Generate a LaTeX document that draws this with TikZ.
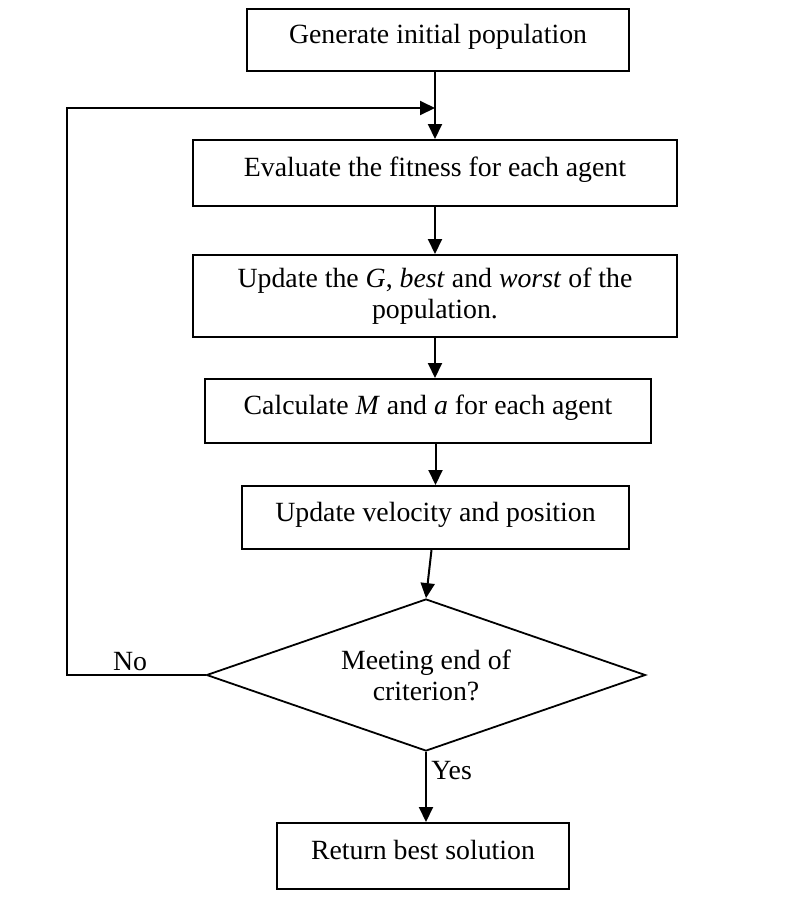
\documentclass[tikz,border=0pt]{standalone}
\usepackage{fontspec}
\setmainfont{Liberation Serif}
\usetikzlibrary{positioning,shapes.geometric,arrows.meta}

\begin{document}
\begin{tikzpicture}
    [x=0.5pt, y=-0.5pt,
    every node/.style={font=\fontsize{13.9}{15.5}\selectfont},
    box/.style={draw, line width=1pt, inner sep=0pt, align=center,
        text height=9.5pt, text depth=6pt},
    twoline/.style={draw, line width=1pt, inner sep=0pt, align=center},
    decision/.style={draw, diamond, line width=0.9pt, inner sep=0pt,
        align=center, aspect=2.89},
    arr/.style={line width=1pt, -{Triangle[length=7.5pt,width=7pt]}}
    ]
    \useasboundingbox (0,0) rectangle (801,901);
    \node[box, minimum width=191pt, minimum height=31pt] (gen) at (438,40)
        {Generate initial population};
    \node[box, minimum width=242pt, minimum height=33pt] (eval) at (435,173)
        {Evaluate the fitness for each agent};
    \node[twoline, minimum width=242pt, minimum height=41pt] (upd) at (435,296)
        {Update the \textit{G}, \textit{best} and \textit{worst} of the\\ population.};
    \node[box, minimum width=223pt, minimum height=32pt] (calc) at (428,411)
        {Calculate \textit{M} and \textit{a} for each agent};
    \node[box, minimum width=193.5pt, minimum height=31.5pt] (vel) at (435.5,517.5)
        {Update velocity and position};
    \node[decision, minimum width=219.5pt, minimum height=76pt] (crit) at (426,675)
        {Meeting end of\\ criterion?};
    \node[box, minimum width=146pt, minimum height=33pt] (ret) at (423,856)
        {Return best solution};
    \coordinate (back) at (67,108);
    \node (no) at (130,662) {No};
    \node[anchor=west, inner sep=0pt] (yes) at (431,771) {Yes};

    \draw[arr] (gen.south -| eval.north) -- (eval.north);
    \draw[arr] (eval.south) -- (upd.north);
    \draw[arr] (upd.south) -- (upd.south |- calc.north);
    \draw[arr] (calc.south -| vel.north) -- (vel.north);
    \draw[arr] ([xshift=-2pt]vel.south) -- (crit.north);
    \draw[arr] (crit.south) -- (crit.south |- ret.north);
    \draw[arr] (crit.west) -| (back) -- (back -| eval.north);
\end{tikzpicture}
\end{document}
